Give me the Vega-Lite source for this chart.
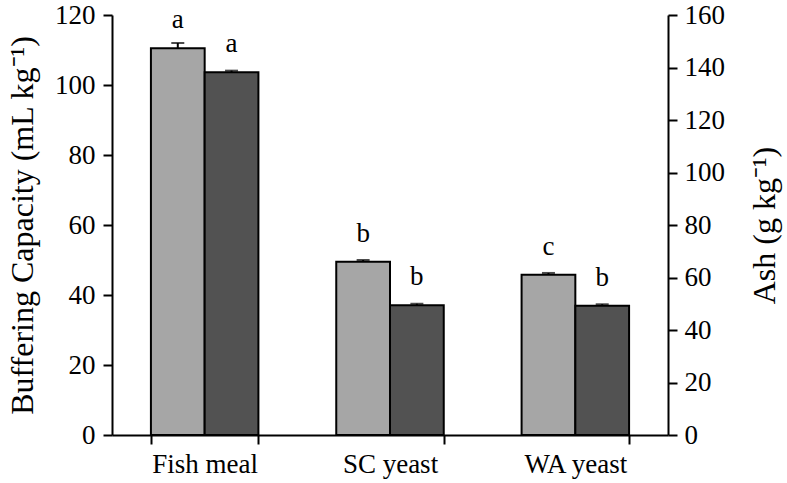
{
  "$schema": "https://vega.github.io/schema/vega-lite/v6.json",
  "width": 556,
  "height": 420,
  "autosize": "none",
  "padding": {"left": 112, "top": 15, "right": 119, "bottom": 48},
  "background": "white",
  "config": {
    "view": {"stroke": null},
    "font": "Liberation Serif",
    "axis": {
      "grid": false,
      "domainColor": "black",
      "domainWidth": 2,
      "tickColor": "black",
      "tickWidth": 2,
      "tickSize": 9,
      "labelColor": "black",
      "labelFont": "Liberation Serif",
      "labelFontSize": 27,
      "titleFont": "Liberation Serif",
      "titleFontSize": 32,
      "titleFontWeight": "normal",
      "titleColor": "black"
    }
  },
  "encoding": {
    "x": {
      "field": "cat",
      "type": "nominal",
      "sort": ["Fish meal", "SC yeast", "WA yeast"],
      "scale": {"paddingInner": 0.42, "paddingOuter": 0.21},
      "axis": {"title": null, "labelAngle": 0, "tickBand": "extent", "labelPadding": 7}
    },
    "xOffset": {"field": "series", "type": "nominal", "scale": {"domain": ["BC", "Ash"]}}
  },
  "layer": [
    {
      "data": {"values": [
        {"cat": "Fish meal", "series": "BC", "v": 110.5, "err": 112.0, "letter": "a"},
        {"cat": "SC yeast", "series": "BC", "v": 49.5, "err": 50.0, "letter": "b"},
        {"cat": "WA yeast", "series": "BC", "v": 45.8, "err": 46.3, "letter": "c"}
      ]},
      "layer": [
        {
          "mark": {"type": "bar", "fill": "#a6a6a6", "stroke": "black", "strokeWidth": 2},
          "encoding": {
            "y": {"field": "v", "type": "quantitative", "scale": {"domain": [0, 120]},
              "axis": {"orient": "left", "title": "Buffering Capacity (mL kg⁻¹)", "values": [0, 20, 40, 60, 80, 100, 120], "labelPadding": 8, "titleX": -90, "titleY": 210, "titleBaseline": "middle", "titleAngle": 270}}
          }
        },
        {
          "mark": {"type": "rule", "color": "black", "strokeWidth": 2},
          "encoding": {"y": {"field": "v", "type": "quantitative"}, "y2": {"field": "err"}}
        },
        {
          "mark": {"type": "tick", "color": "black", "thickness": 2, "size": 13, "orient": "horizontal"},
          "encoding": {"y": {"field": "err", "type": "quantitative"}}
        },
        {
          "mark": {"type": "text", "fontSize": 27, "font": "Liberation Serif", "color": "black", "baseline": "alphabetic", "dy": -20},
          "encoding": {"y": {"field": "v", "type": "quantitative"}, "text": {"field": "letter"}}
        }
      ]
    },
    {
      "data": {"values": [
        {"cat": "Fish meal", "series": "Ash", "v": 138.2, "err": 138.8, "letter": "a"},
        {"cat": "SC yeast", "series": "Ash", "v": 49.4, "err": 50.0, "letter": "b"},
        {"cat": "WA yeast", "series": "Ash", "v": 49.2, "err": 49.8, "letter": "b"}
      ]},
      "layer": [
        {
          "mark": {"type": "bar", "fill": "#525252", "stroke": "black", "strokeWidth": 2},
          "encoding": {
            "y": {"field": "v", "type": "quantitative", "scale": {"domain": [0, 160]},
              "axis": {"orient": "right", "title": "Ash (g kg⁻¹)", "values": [0, 20, 40, 60, 80, 100, 120, 140, 160], "labelPadding": 7, "titleAngle": 270, "titleX": 96, "titleY": 210, "titleBaseline": "middle"}}
          }
        },
        {
          "mark": {"type": "rule", "color": "black", "strokeWidth": 2},
          "encoding": {"y": {"field": "v", "type": "quantitative"}, "y2": {"field": "err"}}
        },
        {
          "mark": {"type": "tick", "color": "black", "thickness": 2, "size": 13, "orient": "horizontal"},
          "encoding": {"y": {"field": "err", "type": "quantitative"}}
        },
        {
          "mark": {"type": "text", "fontSize": 27, "font": "Liberation Serif", "color": "black", "baseline": "alphabetic", "dy": -20},
          "encoding": {"y": {"field": "v", "type": "quantitative"}, "text": {"field": "letter"}}
        }
      ]
    }
  ],
  "resolve": {"scale": {"y": "independent"}, "axis": {"y": "independent"}}
}
